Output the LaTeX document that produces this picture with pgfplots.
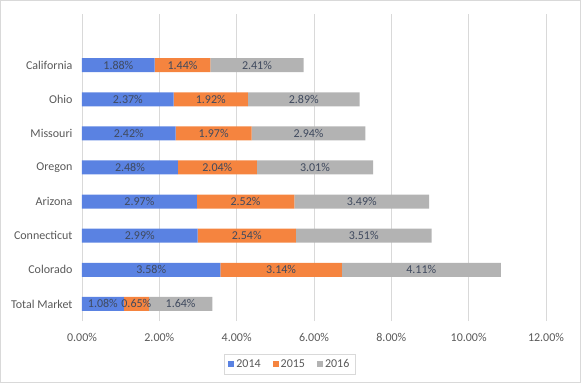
\documentclass[border=0pt]{standalone}
\usepackage{fontspec}
\setmainfont{Carlito}
\usepackage{pgfplots}
\pgfplotsset{compat=1.18}
\definecolor{c14}{HTML}{5A82E2}
\definecolor{c15}{HTML}{F5843F}
\definecolor{c16}{HTML}{B3B3B3}
\definecolor{tickgray}{HTML}{595959}
\definecolor{labgray}{HTML}{404A5E}
\definecolor{gridgray}{HTML}{D9D9D9}
\begin{document}
\begin{tikzpicture}
\pgfplotsset{base/.style={
  scale only axis, width=464pt, height=307pt,
  xmin=0, xmax=12, ymin=-0.5, ymax=8.5,
  at={(0pt,0pt)}, anchor=south west}}
\begin{axis}[base,
  xbar stacked, bar width=14pt,
  axis line style={draw=none},
  xmajorgrids, grid style={color=gridgray, line width=0.6pt},
  xtick={0,2,...,12}, ytick={0,...,7},
  yticklabels={Total Market,Colorado,Connecticut,Arizona,Oregon,Missouri,Ohio,California},
  major tick length=0pt,
  tick label style={font=\fontsize{12}{14}\selectfont, text=tickgray},
  xticklabel style={yshift=-8.5pt},
  yticklabel style={xshift=-6pt},
  /pgf/number format/assume math mode=true,
  xticklabel={\pgfmathprintnumber[fixed,fixed zerofill,precision=2]{\tick}\%},
  legend style={at={(0.448,-0.14)}, anchor=center, legend columns=3,
    draw=gridgray, font=\fontsize{12}{14}\selectfont, text=tickgray,
    inner ysep=3pt, inner xsep=4pt,
    /tikz/every even column/.append style={column sep=10pt}},
  legend image code/.code={\fill[#1] (1pt,-3pt) rectangle (7pt,3pt);},
]
\addplot[fill=c14, draw=none] coordinates {(1.08,0) (3.58,1) (2.99,2) (2.97,3) (2.48,4) (2.42,5) (2.37,6) (1.88,7)};
\addplot[fill=c15, draw=none] coordinates {(0.65,0) (3.14,1) (2.54,2) (2.52,3) (2.04,4) (1.97,5) (1.92,6) (1.44,7)};
\addplot[fill=c16, draw=none] coordinates {(1.64,0) (4.11,1) (3.51,2) (3.49,3) (3.01,4) (2.94,5) (2.89,6) (2.41,7)};
\legend{2014,2015,2016}
\end{axis}
\begin{axis}[base, hide axis,
  every node near coord/.append style={anchor=center, font=\fontsize{12}{14}\selectfont, text=labgray, inner sep=0pt}]
\addplot[draw=none, nodes near coords, point meta=explicit symbolic] coordinates {
 (0.54,0)[1.08\%] (1.79,1)[3.58\%] (1.495,2)[2.99\%] (1.485,3)[2.97\%]
 (1.24,4)[2.48\%] (1.21,5)[2.42\%] (1.185,6)[2.37\%] (0.94,7)[1.88\%]};
\addplot[draw=none, nodes near coords, point meta=explicit symbolic] coordinates {
 (1.405,0)[0.65\%] (5.15,1)[3.14\%] (4.26,2)[2.54\%] (4.23,3)[2.52\%]
 (3.50,4)[2.04\%] (3.405,5)[1.97\%] (3.33,6)[1.92\%] (2.60,7)[1.44\%]};
\addplot[draw=none, nodes near coords, point meta=explicit symbolic] coordinates {
 (2.55,0)[1.64\%] (8.775,1)[4.11\%] (7.285,2)[3.51\%] (7.235,3)[3.49\%]
 (6.025,4)[3.01\%] (5.86,5)[2.94\%] (5.735,6)[2.89\%] (4.525,7)[2.41\%]};
\end{axis}
\draw[color=gridgray, line width=0.8pt] (-81.6pt,-61.6pt) rectangle (498.6pt,320.6pt);
\end{tikzpicture}
\end{document}
